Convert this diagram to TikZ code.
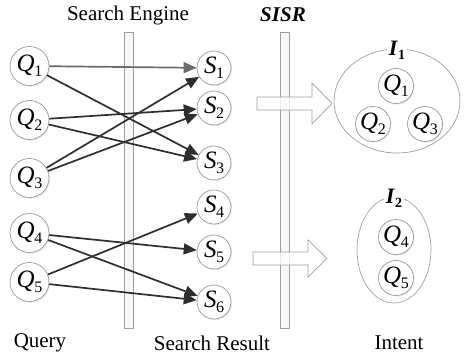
\documentclass[tikz,border=0pt]{standalone}
\usepackage{fontspec}
\setmainfont{Liberation Serif}
\usetikzlibrary{arrows.meta,shadows}
\newcommand\qsub[2]{\textit{#1}\kern-0.5pt\raisebox{-0.45ex}{\fontsize{16}{16}\selectfont #2}}
\newcommand\isub[2]{\textbf{\textit{#1}}\raisebox{-0.4ex}{\fontsize{14}{14}\selectfont\bfseries #2}}
\begin{document}
\begin{tikzpicture}[x=1pt,y=-1pt,
  qnode/.style={circle,draw=gray!80,fill=white,line width=0.7pt,minimum size=39pt,inner sep=0pt,
    font=\fontsize{25}{25}\selectfont,drop shadow={opacity=0.18,shadow xshift=1pt,shadow yshift=-1pt}},
  snode/.style={qnode,minimum size=34pt},
  inode/.style={qnode,minimum size=35pt},
  lbl/.style={font=\fontsize{21}{21}\selectfont},
  bar/.style={draw=gray!75,fill=gray!6,line width=0.7pt},
  bigarrow/.style={draw=gray!75,fill=white,fill opacity=0.8,line width=0.7pt},
  edge/.style={draw=black!82,line width=1.7pt,-{Triangle[length=13pt,width=11pt]}},
  grayedge/.style={edge,draw=black!58},
  group/.style={draw=gray!75,line width=0.7pt},
  glabel/.style={fill=white,inner sep=2pt,font=\fontsize{22}{22}\selectfont}
]
\useasboundingbox (0,0) rectangle (466,357);

% bars
\draw[bar] (124,32) rectangle (133,328);
\draw[bar] (280,32) rectangle (289,328);

% labels
\node[lbl] (se) at (128,15) {Search Engine};
\node[lbl] (sisr) at (283,15) {\textbf{\textit{SISR}}};
\node[lbl] (qry) at (40,343) {Query};
\node[lbl] (sr) at (212,343) {Search Result};
\node[lbl] (int) at (399,343) {Intent};

% query nodes
\node[qnode] (q1) at (29.5,66) {\qsub{Q}{1}};
\node[qnode] (q2) at (29.5,120) {\qsub{Q}{2}};
\node[qnode] (q3) at (29.5,178) {\qsub{Q}{3}};
\node[qnode] (q4) at (29.5,233) {\qsub{Q}{4}};
\node[qnode] (q5) at (29.5,282) {\qsub{Q}{5}};

% result nodes
\node[snode] (s1) at (214,68) {\qsub{S}{1}};
\node[snode] (s2) at (214,108) {\qsub{S}{2}};
\node[snode] (s3) at (214,163) {\qsub{S}{3}};
\node[snode] (s4) at (214,207) {\qsub{S}{4}};
\node[snode] (s5) at (214,252) {\qsub{S}{5}};
\node[snode] (s6) at (214,302) {\qsub{S}{6}};

% edges
\draw[grayedge] (q1) -- (s1);
\draw[edge] (q1) -- (s3);
\draw[edge] (q2) -- (s2);
\draw[edge] (q2) -- (s3);
\draw[edge] (q3) -- (s1);
\draw[edge] (q3) -- (s2);
\draw[edge] (q4) -- (s5);
\draw[edge] (q4) -- (s6);
\draw[edge] (q5) -- (s4);
\draw[edge] (q5) -- (s6);

% big arrows
\draw[bigarrow] (257,97) -- (312,97) -- (312,83) -- (332,103.5) -- (312,124) -- (312,110) -- (257,110) -- cycle;
\draw[bigarrow] (253,252) -- (308,252) -- (308,240) -- (327,258.5) -- (308,277) -- (308,265) -- (253,265) -- cycle;

% intent groups
\draw[group] (397,101) ellipse [x radius=63, y radius=52];
\node[glabel] (i1) at (397,50) {\isub{I}{1}};
\node[inode] (iq1) at (396,86) {\qsub{Q}{1}};
\node[inode] (iq2) at (373,124) {\qsub{Q}{2}};
\node[inode] (iq3) at (425,124) {\qsub{Q}{3}};

\draw[group] (394,250) ellipse [x radius=37, y radius=53];
\node[glabel] (i2) at (394,198) {\isub{I}{2}};
\node[inode] (iq4) at (396,237) {\qsub{Q}{4}};
\node[inode] (iq5) at (396,278) {\qsub{Q}{5}};
\end{tikzpicture}
\end{document}
